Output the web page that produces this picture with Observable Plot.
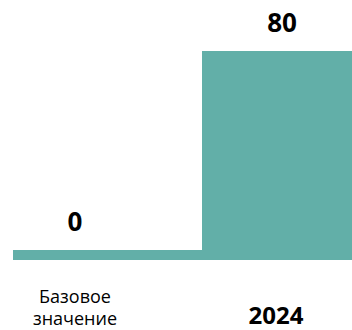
<!DOCTYPE html>
<html>
<head>
<meta charset="utf-8">
<script src="https://cdn.jsdelivr.net/npm/d3@7"></script>
<script src="https://cdn.jsdelivr.net/npm/@observablehq/plot@0.6"></script>
<style>
  html, body { margin: 0; padding: 0; background: #fff; }
  #chart svg { display: block; }
</style>
</head>
<body>
<div id="chart"></div>
<script>
const categories = ["Базовое значение", "2024"];
const values = [0, 80];
const valueLabels = ["0", "80"];
const categoryLabels = ["Базовое\nзначение", "2024"];
const baseline = -4;

const data = categories.map((c, i) => ({
  category: c,
  value: values[i],
  valueLabel: valueLabels[i],
  label: categoryLabels[i]
}));

const teal = "#62afa8";
const font = "'Open Sans', sans-serif";

const chart = Plot.plot({
  width: 352,
  height: 330,
  marginTop: 0,
  marginRight: 0,
  marginBottom: 0,
  marginLeft: 0,
  x: { type: "band", domain: categories, range: [-29.5, 384.5], padding: 0, axis: null },
  y: { domain: [baseline, 80], range: [260, 51], axis: null },
  style: { fontFamily: font, background: "#fff" },
  marks: [
    Plot.barY(data.filter(d => d.category === categories[0]), {
      x: "category", y1: baseline, y2: "value", fill: teal,
      insetLeft: 41.5, insetRight: -23.5, shapeRendering: "crispEdges"
    }),
    Plot.barY(data.filter(d => d.category === categories[1]), {
      x: "category", y1: baseline, y2: "value", fill: teal,
      insetLeft: 23.5, insetRight: 23.5, shapeRendering: "crispEdges"
    }),
    Plot.text(data, {
      x: "category", y: "value", text: "valueLabel",
      lineAnchor: "bottom", dy: -20,
      fontSize: 26, fontWeight: "bold", fill: "#000"
    }),
    Plot.text(data.filter(d => d.category === categories[0]), {
      x: "category", text: "label", frameAnchor: "bottom",
      lineAnchor: "bottom", dy: -6, lineHeight: 1.2,
      fontSize: 18, fill: "#000"
    }),
    Plot.text(data.filter(d => d.category === categories[1]), {
      x: "category", text: "label", frameAnchor: "bottom",
      lineAnchor: "bottom", dy: -7, dx: -6,
      fontSize: 24, fontWeight: "bold", fill: "#000"
    })
  ]
});

document.getElementById("chart").append(chart);
</script>
</body>
</html>
